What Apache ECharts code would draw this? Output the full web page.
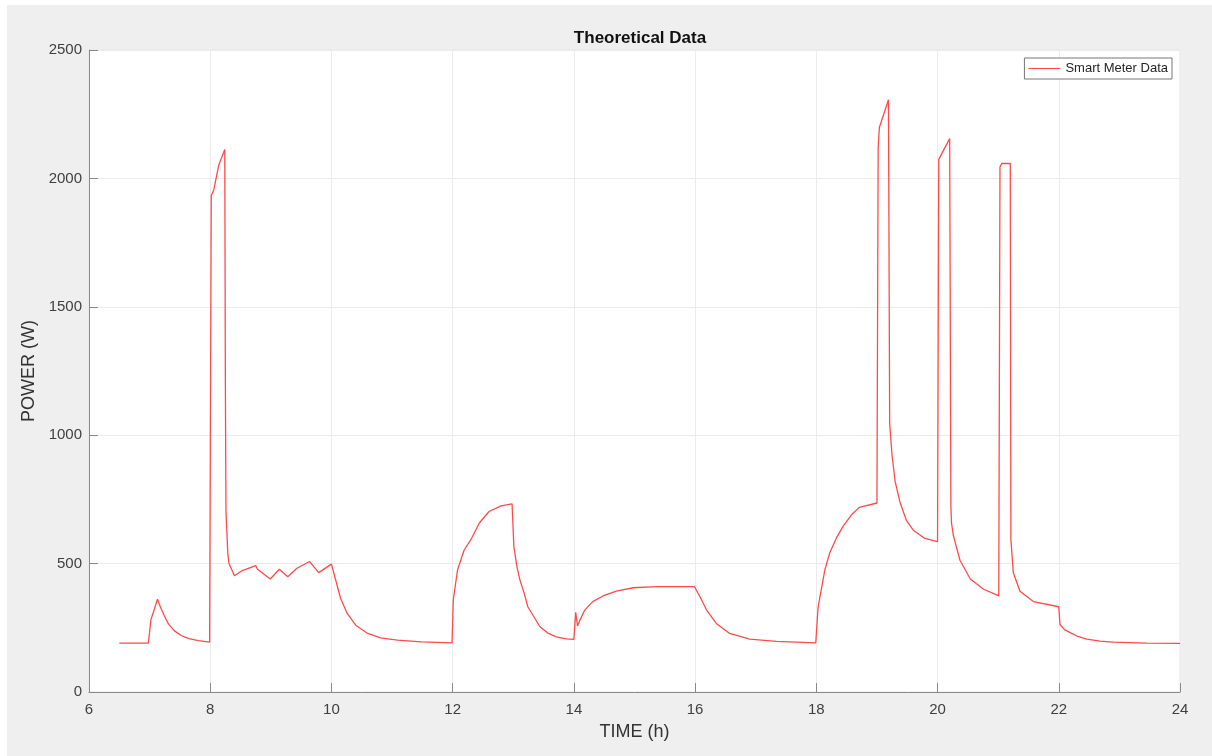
<!DOCTYPE html>
<html>
<head>
<meta charset="utf-8">
<script src="https://cdn.jsdelivr.net/npm/echarts@6/dist/echarts.min.js"></script>
<style>
  html, body { margin: 0; padding: 0; background: #ffffff; }
  #frame { position: absolute; left: 7px; top: 5px; width: 1205px; height: 751px; background: #efefef; }
  #chart { position: absolute; left: 0; top: 0; width: 1212px; height: 756px; }
</style>
</head>
<body>
<div id="frame"></div>
<div id="chart"></div>
<script>
// time of day (h) and smart meter power (W)
const timeH = [
  6.5, 6.98, 7.02, 7.13, 7.18, 7.24, 7.31, 7.40, 7.52, 7.65, 7.80, 7.99,
  8.017, 8.06, 8.09, 8.14, 8.24, 8.25, 8.26, 8.29, 8.31, 8.40, 8.53, 8.75, 8.78, 8.99, 9.14, 9.28, 9.43, 9.64, 9.79, 10.0,
  10.07, 10.15, 10.26, 10.40, 10.60, 10.81, 11.09, 11.48, 11.99,
  12.01, 12.08, 12.19, 12.30, 12.44, 12.60, 12.80, 12.98,
  13.01, 13.06, 13.11, 13.18, 13.24, 13.34, 13.44, 13.58, 13.71, 13.87, 14.00,
  14.03, 14.06, 14.10, 14.18, 14.31, 14.48, 14.70, 14.98, 15.36, 15.99,
  16.08, 16.19, 16.35, 16.57, 16.90, 17.34, 17.99,
  18.03, 18.08, 18.14, 18.22, 18.33, 18.44, 18.58, 18.71, 19.0,
  19.02, 19.04, 19.19, 19.21, 19.25, 19.30, 19.38, 19.49, 19.60, 19.79, 20.0,
  20.02, 20.20, 20.22, 20.23, 20.26, 20.37, 20.54, 20.76, 21.01,
  21.03, 21.06, 21.20, 21.21, 21.25, 21.36, 21.58, 22.0,
  22.02, 22.10, 22.19, 22.30, 22.46, 22.68, 22.90, 23.45, 24.0
];
const powerW = [
  190, 190, 280, 361, 330, 298, 265, 240, 220, 208, 200, 194,
  1933, 1956, 1992, 2051, 2113, 1200, 700, 540, 500, 453, 473, 492, 478, 440, 478, 449, 482, 508, 465, 498,
  436, 365, 306, 260, 228, 211, 202, 195, 191,
  358, 475, 553, 593, 658, 703, 725, 733,
  566, 488, 436, 384, 332, 293, 254, 228, 215, 207, 205,
  310, 257, 280, 319, 352, 374, 393, 406, 410, 410,
  371, 319, 267, 228, 206, 197, 191,
  332, 397, 475, 541, 599, 645, 690, 719, 736,
  2118, 2198, 2306, 1045, 920, 820, 739, 666, 630, 598, 586,
  2074, 2155, 722, 658, 610, 513, 440, 400, 374,
  2045, 2058, 2058, 593, 464, 392, 352, 332,
  263, 242, 231, 218, 206, 198, 194, 190, 189
];
const xTicks = { min: 6, max: 24, step: 2 };
const yTicks = { min: 0, max: 2500, step: 500 };

const points = timeH.map((t, i) => [t, powerW[i]]);

const myChart = echarts.init(document.getElementById('chart'));

const labelFont = { color: '#404040', fontSize: 15, fontFamily: 'Liberation Sans, Arial, sans-serif' };

const options = {
  animation: false,
  backgroundColor: 'transparent',
  title: {
    text: 'Theoretical Data',
    left: 635,
    top: 25,
    textAlign: 'center',
    textStyle: { fontSize: 17, fontWeight: 'bold', color: '#111', fontFamily: 'Liberation Sans, Arial, sans-serif' }
  },
  legend: {
    data: ['Smart Meter Data'],
    right: 40,
    top: 58,
    icon: 'rect',
    itemWidth: 32,
    itemHeight: 1,
    itemGap: 4,
    padding: [4, 4, 4, 4],
    borderColor: '#777',
    borderWidth: 1,
    backgroundColor: '#fff',
    textStyle: { color: '#262626', fontSize: 13, fontFamily: 'Liberation Sans, Arial, sans-serif' }
  },
  grid: {
    left: 89,
    right: 32,
    top: 50,
    bottom: 64,
    show: true,
    backgroundColor: '#ffffff',
    borderColor: '#e6e6e6',
    borderWidth: 1
  },
  xAxis: {
    type: 'value',
    min: xTicks.min,
    max: xTicks.max,
    interval: xTicks.step,
    name: 'TIME (h)',
    nameLocation: 'middle',
    nameGap: 31,
    nameTextStyle: { color: '#333', fontSize: 18, fontFamily: 'Liberation Sans, Arial, sans-serif' },
    axisLine: { show: true, lineStyle: { color: '#8a8a8a', width: 1 } },
    axisTick: { show: true, inside: true, length: 9, lineStyle: { color: '#8a8a8a' } },
    axisLabel: Object.assign({ margin: 10, formatter: v => String(v) }, labelFont),
    splitLine: { show: true, lineStyle: { color: '#ebebeb', width: 1 } }
  },
  yAxis: {
    type: 'value',
    min: yTicks.min,
    max: yTicks.max,
    interval: yTicks.step,
    name: 'POWER (W)',
    nameLocation: 'middle',
    nameGap: 46,
    nameTextStyle: { color: '#333', fontSize: 18, fontFamily: 'Liberation Sans, Arial, sans-serif' },
    axisLine: { show: true, lineStyle: { color: '#8a8a8a', width: 1 } },
    axisTick: { show: true, inside: true, length: 9, lineStyle: { color: '#8a8a8a' } },
    axisLabel: Object.assign({ margin: 7, formatter: v => String(v) }, labelFont),
    splitLine: { show: true, lineStyle: { color: '#ebebeb', width: 1 } }
  },
  series: [
    {
      type: 'line',
      name: 'Smart Meter Data',
      data: points,
      showSymbol: false,
      smooth: false,
      color: '#ff4a4a',
      lineStyle: { color: '#ff4a4a', width: 1.3 }
    }
  ]
};

myChart.setOption(options);
</script>
</body>
</html>
